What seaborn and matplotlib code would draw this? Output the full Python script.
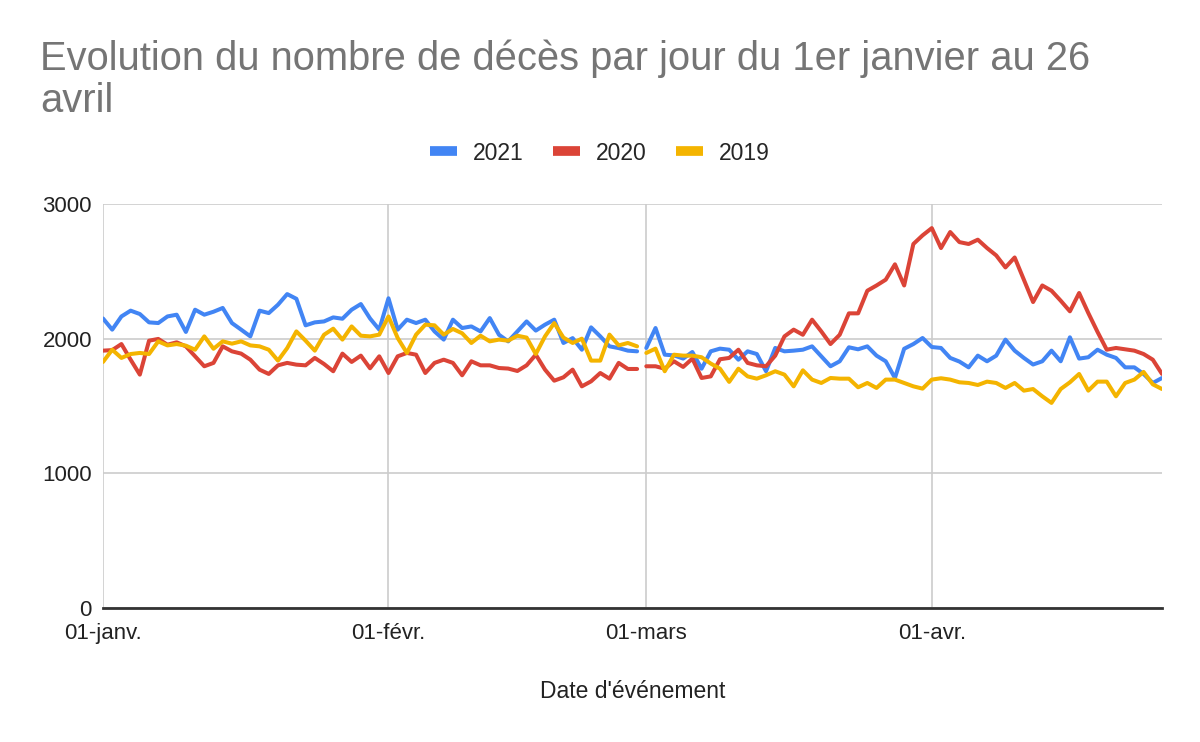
import pandas as pd
import numpy as np
import matplotlib
matplotlib.use("Agg")
import matplotlib.pyplot as plt
import seaborn as sns
from matplotlib.lines import Line2D

# deces par jour, du 01-janv. au 26-avr. (116 jours)
deces_2021 = [2150, 2067, 2165, 2208, 2183, 2121, 2116, 2165, 2178, 2050,
              2215, 2178, 2200, 2228, 2116, 2067, 2017, 2208, 2190, 2252,
              2331, 2296, 2099, 2121, 2128, 2158, 2148, 2215, 2257, 2150,
              2067, 2300, 2067, 2141, 2116, 2141, 2054, 1993, 2141, 2079,
              2091, 2054, 2153, 2029, 1980, 2054, 2128, 2060, 2104, 2141,
              1968, 2004, 1918, 2084, 2017, 1943, 1930, 1911, 1906,
              1931, 2079, 1881, 1876, 1852, 1901, 1777, 1906, 1926, 1918,
              1844, 1906, 1886, 1758, 1931, 1906, 1911, 1918, 1943, 1869,
              1795, 1832, 1936, 1921, 1943, 1874, 1832, 1708, 1925, 1960,
              2005, 1938, 1931, 1857, 1830, 1787, 1874, 1832, 1874, 1993,
              1911, 1857, 1808, 1832, 1911, 1832, 2010, 1852, 1862, 1918,
              1881, 1857, 1787, 1787, 1738, 1671, 1708]

deces_2020 = [1911, 1915, 1960, 1844, 1733, 1985, 1998, 1955, 1973, 1943,
              1869, 1795, 1820, 1943, 1906, 1889, 1844, 1770, 1738, 1802,
              1820, 1807, 1802, 1857, 1812, 1758, 1889, 1827, 1874, 1780,
              1869, 1745, 1869, 1894, 1881, 1745, 1820, 1844, 1820, 1728,
              1832, 1802, 1802, 1782, 1778, 1760, 1802, 1881, 1770, 1688,
              1713, 1770, 1646, 1683, 1745, 1703, 1820, 1775, 1775,
              1795, 1795, 1777, 1832, 1790, 1852, 1708, 1720, 1847, 1857,
              1918, 1820, 1802, 1795, 1874, 2017, 2067, 2029, 2141, 2054,
              1960, 2029, 2188, 2188, 2356, 2395, 2438, 2552, 2395, 2703,
              2767, 2821, 2673, 2792, 2717, 2703, 2735, 2673, 2618, 2529,
              2603, 2438, 2272, 2395, 2356, 2282, 2203, 2339, 2190, 2050,
              1918, 1931, 1921, 1911, 1886, 1844, 1738]

deces_2019 = [1827, 1918, 1857, 1886, 1894, 1886, 1980, 1950, 1960, 1948,
              1918, 2017, 1925, 1980, 1963, 1980, 1950, 1943, 1918, 1837,
              1930, 2054, 1985, 1911, 2029, 2074, 1993, 2091, 2022, 2017,
              2030, 2165, 2005, 1894, 2030, 2104, 2099, 2030, 2072, 2040,
              1968, 2022, 1980, 1993, 1985, 2022, 2008, 1886, 2017, 2116,
              2008, 1968, 2000, 1837, 1837, 2030, 1950, 1968, 1943,
              1894, 1926, 1758, 1881, 1874, 1874, 1862, 1815, 1777, 1679,
              1777, 1720, 1703, 1728, 1758, 1733, 1646, 1765, 1696, 1671,
              1708, 1703, 1703, 1639, 1671, 1634, 1696, 1696, 1671, 1646,
              1629, 1696, 1706, 1696, 1676, 1671, 1656, 1681, 1671, 1634,
              1671, 1614, 1626, 1572, 1523, 1626, 1676, 1738, 1614, 1681,
              1681, 1572, 1671, 1696, 1753, 1661, 1626]

annees = ["2021", "2020", "2019"]
couleurs = ["#4285F4", "#DB4437", "#F4B400"]
mois_ticks = ["2021-01-01", "2021-02-01", "2021-03-01", "2021-04-01"]
mois_labels = ["01-janv.", "01-févr.", "01-mars", "01-avr."]

dates = pd.date_range("2021-01-01", "2021-04-26", freq="D")
frames = []
for annee, vals in zip(annees, [deces_2021, deces_2020, deces_2019]):
    d = pd.DataFrame({"date": dates, "deces": vals, "annee": annee})
    # la courbe est coupee entre le 28 fevrier et le 1er mars
    d["segment"] = (d["date"] >= "2021-03-01").astype(int)
    frames.append(d)
df = pd.concat(frames, ignore_index=True)

sns.set_theme(style="white")
plt.rcParams["font.family"] = ["Liberation Sans", "DejaVu Sans"]

fig = plt.figure(figsize=(12, 7.42), dpi=100)
ax = fig.add_axes([103 / 1200, 1 - 608 / 742, (1162 - 103) / 1200, (608 - 204) / 742])

sns.lineplot(data=df, x="date", y="deces", hue="annee", units="segment",
             estimator=None, hue_order=annees, palette=dict(zip(annees, couleurs)),
             linewidth=2.9, ax=ax, legend=False)

ax.set_xlim(dates[0], dates[-1])
ax.set_ylim(0, 3000)
ax.set_yticks([0, 1000, 2000, 3000])
ax.set_yticklabels(["0", "1000", "2000", "3000"])
ax.set_xticks(pd.to_datetime(mois_ticks))
ax.set_xticklabels(mois_labels)
ax.grid(True, color="#cccccc", linewidth=1.2)
ax.set_axisbelow(True)
for s in ["top", "right", "left"]:
    ax.spines[s].set_visible(False)
ax.spines["bottom"].set_color("#333333")
ax.spines["bottom"].set_linewidth(2)
ax.tick_params(axis="both", length=0, labelsize=16, colors="#222222")
ax.tick_params(axis="y", pad=8)
ax.tick_params(axis="x", pad=11)
ax.set_xlabel("Date d'événement", fontsize=16.5, color="#222222", labelpad=26)
ax.set_ylabel("")

fig.text(40 / 1200, 1 - 40 / 742,
         "Evolution du nombre de décès par jour du 1er janvier au 26\navril",
         fontsize=28.7, color="#757575", va="top", ha="left", linespacing=1.12)

handles = [Line2D([0], [0], color=c, linewidth=7, solid_capstyle="butt") for c in couleurs]
fig.legend(handles, annees, loc="center", bbox_to_anchor=(0.5, 1 - 153 / 742),
           ncol=3, frameon=False, fontsize=16.5, handlelength=1.15, columnspacing=1.3,
           handletextpad=0.7)

plt.savefig("out.png", dpi=100)
